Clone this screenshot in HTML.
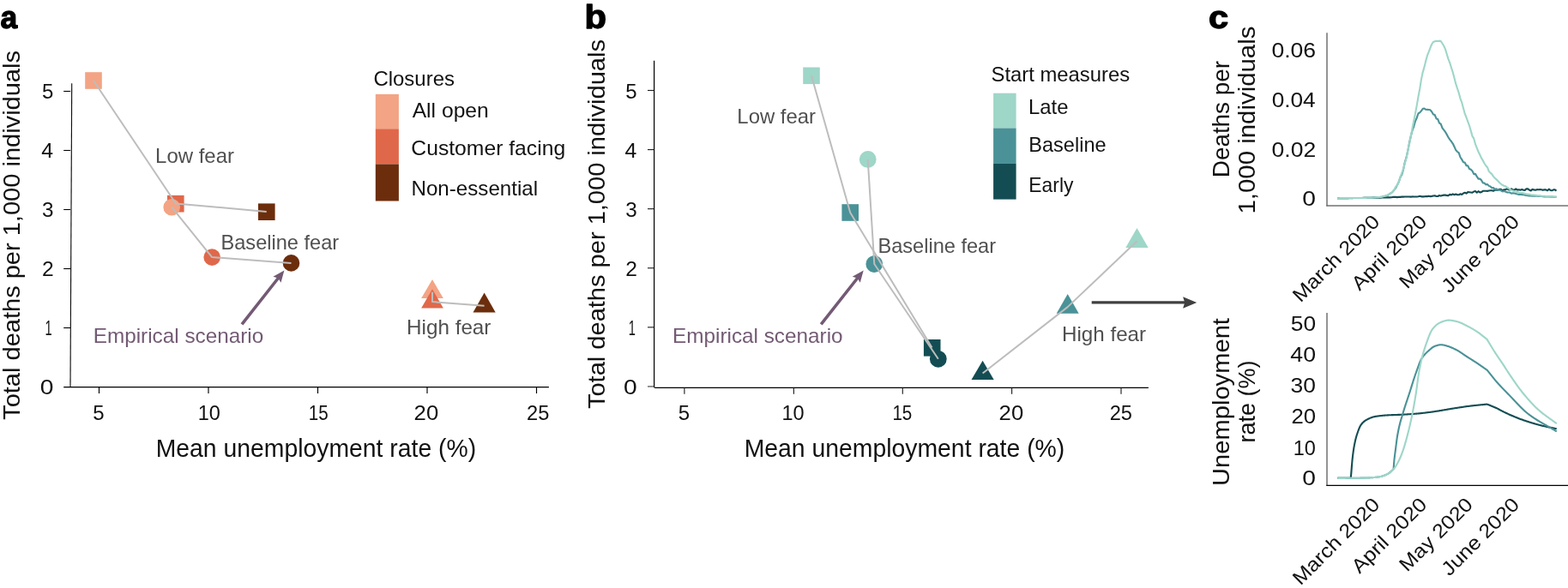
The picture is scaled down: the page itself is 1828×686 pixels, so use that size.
<!DOCTYPE html>
<html><head><meta charset="utf-8"><title>Figure</title>
<style>html,body{margin:0;padding:0;background:#fff;}svg{display:block;}text{font-family:"Liberation Sans", Arial, Helvetica, sans-serif;}</style>
</head><body>
<svg width="1828" height="686" viewBox="0 0 1828 686">
<rect width="1828" height="686" fill="#fff"/>
<text x="0.59" y="32.90" font-size="37" fill="#000" font-weight="bold" stroke="#000" stroke-width="1.3" stroke-linejoin="round" textLength="19.65" lengthAdjust="spacingAndGlyphs">a</text>
<line x1="83.70" y1="97.30" x2="82.00" y2="451.50" stroke="#111" stroke-width="1.15"/>
<line x1="74.20" y1="451.50" x2="639.90" y2="451.50" stroke="#000" stroke-width="1.25"/>
<text x="46.87" y="460.40" font-size="24" fill="#111" textLength="15.69" lengthAdjust="spacingAndGlyphs">0</text>
<line x1="74.20" y1="382.50" x2="82.20" y2="382.50" stroke="#000" stroke-width="1.1"/>
<text x="52.60" y="391.40" font-size="24" fill="#111" textLength="8.15" lengthAdjust="spacingAndGlyphs">1</text>
<line x1="74.20" y1="313.50" x2="82.20" y2="313.50" stroke="#000" stroke-width="1.1"/>
<text x="48.97" y="322.40" font-size="24" fill="#111" textLength="13.69" lengthAdjust="spacingAndGlyphs">2</text>
<line x1="74.20" y1="244.50" x2="82.20" y2="244.50" stroke="#000" stroke-width="1.1"/>
<text x="49.03" y="253.40" font-size="24" fill="#111" textLength="13.49" lengthAdjust="spacingAndGlyphs">3</text>
<line x1="74.20" y1="175.50" x2="82.20" y2="175.50" stroke="#000" stroke-width="1.1"/>
<text x="48.38" y="184.40" font-size="24" fill="#111" textLength="13.79" lengthAdjust="spacingAndGlyphs">4</text>
<line x1="74.20" y1="106.50" x2="82.20" y2="106.50" stroke="#000" stroke-width="1.1"/>
<text x="49.04" y="115.40" font-size="24" fill="#111" textLength="13.35" lengthAdjust="spacingAndGlyphs">5</text>
<line x1="115.50" y1="451.50" x2="115.50" y2="459.00" stroke="#000" stroke-width="1.15"/>
<text x="108.14" y="489.90" font-size="24" fill="#111" textLength="13.35" lengthAdjust="spacingAndGlyphs">5</text>
<line x1="243.00" y1="451.50" x2="243.00" y2="459.00" stroke="#000" stroke-width="1.15"/>
<text x="230.64" y="489.90" font-size="24" fill="#111" textLength="26.16" lengthAdjust="spacingAndGlyphs">10</text>
<line x1="370.50" y1="451.50" x2="370.50" y2="459.00" stroke="#000" stroke-width="1.15"/>
<text x="359.80" y="489.90" font-size="24" fill="#111" textLength="22.92" lengthAdjust="spacingAndGlyphs">15</text>
<line x1="498.00" y1="451.50" x2="498.00" y2="459.00" stroke="#000" stroke-width="1.15"/>
<text x="482.62" y="489.90" font-size="24" fill="#111" textLength="28.57" lengthAdjust="spacingAndGlyphs">20</text>
<line x1="625.50" y1="451.50" x2="625.50" y2="459.00" stroke="#000" stroke-width="1.15"/>
<text x="614.07" y="489.90" font-size="24" fill="#111" textLength="26.28" lengthAdjust="spacingAndGlyphs">25</text>
<text x="181.63" y="532.90" font-size="29" fill="#111" textLength="373.55" lengthAdjust="spacingAndGlyphs">Mean unemployment rate (%)</text>
<text transform="translate(23.30,489.88) rotate(-90)" x="0" y="0" font-size="28" fill="#111" textLength="430.86" lengthAdjust="spacingAndGlyphs">Total deaths per 1,000 individuals</text>
<rect x="99.20" y="84.20" width="19.60" height="19.60" fill="#F3A484"/>
<rect x="195.00" y="227.90" width="19.60" height="19.60" fill="#E0684A"/>
<rect x="301.00" y="237.40" width="19.60" height="19.60" fill="#6C2D0C"/>
<circle cx="200.20" cy="241.70" r="9.80" fill="#F3A484"/>
<circle cx="247.20" cy="300.10" r="9.80" fill="#E0684A"/>
<circle cx="339.50" cy="306.90" r="9.80" fill="#6C2D0C"/>
<polygon points="504.00,326.00 491.15,348.10 516.85,348.10" fill="#F3A484"/>
<polygon points="504.00,337.20 491.15,359.60 516.85,359.60" fill="#E0684A"/>
<polygon points="564.60,341.60 551.50,364.50 577.70,364.50" fill="#6C2D0C"/>
<polyline points="109.00,94.00 205.00,237.50 310.70,246.90" fill="none" stroke="#BDBDBD" stroke-width="2" stroke-linejoin="round"/>
<polyline points="200.20,241.70 247.20,300.10 339.50,307.00" fill="none" stroke="#BDBDBD" stroke-width="2" stroke-linejoin="round"/>
<polyline points="504.00,340.80 504.00,352.10 564.60,356.70" fill="none" stroke="#BDBDBD" stroke-width="2" stroke-linejoin="round"/>
<text x="435.40" y="100.00" font-size="23.8" fill="#111" textLength="94.56" lengthAdjust="spacingAndGlyphs">Closures</text>
<rect x="437.8" y="109.9" width="27.1" height="40.4" fill="#F3A484"/>
<rect x="437.8" y="150.3" width="27.1" height="41.2" fill="#E0684A"/>
<rect x="437.8" y="191.5" width="27.1" height="43.0" fill="#6C2D0C"/>
<text x="480.68" y="137.10" font-size="23.8" fill="#111" textLength="89.10" lengthAdjust="spacingAndGlyphs">All open</text>
<text x="479.37" y="181.20" font-size="23.8" fill="#111" textLength="179.76" lengthAdjust="spacingAndGlyphs">Customer facing</text>
<text x="479.47" y="227.90" font-size="23.8" fill="#111" textLength="147.71" lengthAdjust="spacingAndGlyphs">Non-essential</text>
<text x="181.08" y="189.80" font-size="23.8" fill="#4f4f4f" textLength="91.89" lengthAdjust="spacingAndGlyphs">Low fear</text>
<text x="257.51" y="290.80" font-size="23.8" fill="#4f4f4f" textLength="137.69" lengthAdjust="spacingAndGlyphs">Baseline fear</text>
<text x="474.06" y="389.70" font-size="23.8" fill="#4f4f4f" textLength="98.37" lengthAdjust="spacingAndGlyphs">High fear</text>
<text x="108.76" y="399.70" font-size="23.8" fill="#735A74" textLength="198.51" lengthAdjust="spacingAndGlyphs">Empirical scenario</text>
<line x1="282.00" y1="378.40" x2="324.91" y2="323.76" stroke="#735A74" stroke-width="3.6"/>
<polygon points="331.40,315.50 327.50,329.86 324.30,324.54 318.38,322.69" fill="#735A74"/>
<text x="681.43" y="32.90" font-size="38.5" fill="#000" font-weight="bold" stroke="#000" stroke-width="1.3" stroke-linejoin="round" textLength="25.52" lengthAdjust="spacingAndGlyphs">b</text>
<path d="M762.6,70.8 L762.6,450.9 Q762.6,452.4 764.1,452.4 L1338.9,452.45" fill="none" stroke="#000" stroke-width="1.2"/>
<line x1="755.00" y1="450.90" x2="762.00" y2="450.90" stroke="#777" stroke-width="1.6"/>
<text x="727.07" y="460.10" font-size="24" fill="#111" textLength="15.69" lengthAdjust="spacingAndGlyphs">0</text>
<line x1="755.00" y1="381.82" x2="762.00" y2="381.82" stroke="#222" stroke-width="1.15"/>
<text x="732.70" y="391.02" font-size="24" fill="#111" textLength="8.15" lengthAdjust="spacingAndGlyphs">1</text>
<line x1="755.00" y1="312.74" x2="762.00" y2="312.74" stroke="#222" stroke-width="1.15"/>
<text x="729.17" y="321.94" font-size="24" fill="#111" textLength="13.69" lengthAdjust="spacingAndGlyphs">2</text>
<line x1="755.00" y1="243.66" x2="762.00" y2="243.66" stroke="#222" stroke-width="1.15"/>
<text x="729.23" y="252.86" font-size="24" fill="#111" textLength="13.49" lengthAdjust="spacingAndGlyphs">3</text>
<line x1="755.00" y1="174.58" x2="762.00" y2="174.58" stroke="#222" stroke-width="1.15"/>
<text x="728.58" y="183.78" font-size="24" fill="#111" textLength="13.79" lengthAdjust="spacingAndGlyphs">4</text>
<line x1="755.00" y1="105.50" x2="762.00" y2="105.50" stroke="#222" stroke-width="1.15"/>
<text x="729.24" y="114.70" font-size="24" fill="#111" textLength="13.35" lengthAdjust="spacingAndGlyphs">5</text>
<line x1="797.90" y1="452.40" x2="797.90" y2="459.70" stroke="#222" stroke-width="1.15"/>
<text x="790.84" y="489.90" font-size="24" fill="#111" textLength="13.35" lengthAdjust="spacingAndGlyphs">5</text>
<line x1="925.40" y1="452.40" x2="925.40" y2="459.70" stroke="#222" stroke-width="1.15"/>
<text x="911.54" y="489.90" font-size="24" fill="#111" textLength="26.16" lengthAdjust="spacingAndGlyphs">10</text>
<line x1="1052.30" y1="452.40" x2="1052.30" y2="459.70" stroke="#222" stroke-width="1.15"/>
<text x="1040.40" y="489.90" font-size="24" fill="#111" textLength="22.92" lengthAdjust="spacingAndGlyphs">15</text>
<line x1="1179.60" y1="452.40" x2="1179.60" y2="459.70" stroke="#222" stroke-width="1.15"/>
<text x="1164.62" y="489.90" font-size="24" fill="#111" textLength="28.57" lengthAdjust="spacingAndGlyphs">20</text>
<line x1="1307.00" y1="452.40" x2="1307.00" y2="459.70" stroke="#222" stroke-width="1.15"/>
<text x="1293.67" y="489.90" font-size="24" fill="#111" textLength="26.28" lengthAdjust="spacingAndGlyphs">25</text>
<text x="867.63" y="532.70" font-size="29" fill="#111" textLength="373.65" lengthAdjust="spacingAndGlyphs">Mean unemployment rate (%)</text>
<text transform="translate(704.80,477.08) rotate(-90)" x="0" y="0" font-size="28" fill="#111" textLength="431.06" lengthAdjust="spacingAndGlyphs">Total deaths per 1,000 individuals</text>
<rect x="936.20" y="78.50" width="19.60" height="19.60" fill="#9ED6C8"/>
<rect x="981.40" y="238.20" width="19.60" height="19.60" fill="#4A9297"/>
<rect x="1076.90" y="396.00" width="19.60" height="19.60" fill="#134D53"/>
<circle cx="1011.70" cy="185.90" r="9.90" fill="#9ED6C8"/>
<circle cx="1019.30" cy="308.00" r="9.90" fill="#4A9297"/>
<circle cx="1093.80" cy="418.80" r="9.90" fill="#134D53"/>
<polygon points="1325.50,266.10 1312.30,288.90 1338.70,288.90" fill="#9ED6C8"/>
<polygon points="1244.70,342.90 1231.70,365.70 1257.70,365.70" fill="#4A9297"/>
<polygon points="1145.60,420.70 1132.50,442.90 1158.70,442.90" fill="#134D53"/>
<polyline points="946.00,88.30 991.20,248.00 1086.50,405.60" fill="none" stroke="#BDBDBD" stroke-width="2" stroke-linejoin="round"/>
<polyline points="1011.70,185.90 1019.30,308.00 1093.80,418.80" fill="none" stroke="#BDBDBD" stroke-width="2" stroke-linejoin="round"/>
<polyline points="1325.50,281.30 1244.70,358.10 1145.60,435.50" fill="none" stroke="#BDBDBD" stroke-width="2" stroke-linejoin="round"/>
<text x="1155.53" y="95.30" font-size="23.8" fill="#111" textLength="161.62" lengthAdjust="spacingAndGlyphs">Start measures</text>
<rect x="1158.1" y="108.7" width="26.5" height="40.8" fill="#9ED6C8"/>
<rect x="1158.1" y="149.5" width="26.5" height="41.4" fill="#4A9297"/>
<rect x="1158.1" y="190.9" width="26.5" height="41.7" fill="#134D53"/>
<text x="1199.09" y="133.10" font-size="23.8" fill="#111" textLength="46.41" lengthAdjust="spacingAndGlyphs">Late</text>
<text x="1199.32" y="177.00" font-size="23.8" fill="#111" textLength="90.27" lengthAdjust="spacingAndGlyphs">Baseline</text>
<text x="1199.37" y="224.10" font-size="23.8" fill="#111" textLength="52.00" lengthAdjust="spacingAndGlyphs">Early</text>
<text x="859.39" y="143.60" font-size="23.8" fill="#4f4f4f" textLength="91.68" lengthAdjust="spacingAndGlyphs">Low fear</text>
<text x="1023.41" y="294.60" font-size="23.8" fill="#4f4f4f" textLength="137.69" lengthAdjust="spacingAndGlyphs">Baseline fear</text>
<text x="1237.96" y="397.80" font-size="23.8" fill="#4f4f4f" textLength="98.16" lengthAdjust="spacingAndGlyphs">High fear</text>
<text x="784.06" y="399.70" font-size="23.8" fill="#735A74" textLength="198.51" lengthAdjust="spacingAndGlyphs">Empirical scenario</text>
<line x1="957.20" y1="378.40" x2="1000.21" y2="323.75" stroke="#735A74" stroke-width="3.6"/>
<polygon points="1006.70,315.50 1002.79,329.85 999.59,324.54 993.67,322.68" fill="#735A74"/>
<line x1="1272.70" y1="352.90" x2="1382.20" y2="352.90" stroke="#404040" stroke-width="3.4"/>
<polygon points="1395.20,352.90 1379.10,359.65 1381.20,352.90 1379.10,346.15" fill="#404040"/>
<text x="1409.09" y="32.90" font-size="37" fill="#000" font-weight="bold" stroke="#000" stroke-width="1.3" stroke-linejoin="round" textLength="23.05" lengthAdjust="spacingAndGlyphs">c</text>
<line x1="1547.00" y1="38.30" x2="1547.00" y2="240.60" stroke="#707070" stroke-width="1.5"/>
<line x1="1546.30" y1="239.90" x2="1828.00" y2="239.90" stroke="#707070" stroke-width="1.5"/>
<text x="1482.44" y="67.40" font-size="24" fill="#111" textLength="51.69" lengthAdjust="spacingAndGlyphs">0.06</text>
<text x="1482.65" y="125.30" font-size="24" fill="#111" textLength="51.07" lengthAdjust="spacingAndGlyphs">0.04</text>
<text x="1482.64" y="182.90" font-size="24" fill="#111" textLength="51.62" lengthAdjust="spacingAndGlyphs">0.02</text>
<text x="1518.37" y="240.30" font-size="24" fill="#111" textLength="15.69" lengthAdjust="spacingAndGlyphs">0</text>
<text transform="translate(1463.40,249.50) rotate(-90)" x="0" y="0" font-size="28" fill="#111" textLength="218.93" lengthAdjust="spacingAndGlyphs">1,000 individuals</text>
<text transform="translate(1432.60,207.23) rotate(-90)" x="0" y="0" font-size="28" fill="#111" textLength="136.29" lengthAdjust="spacingAndGlyphs">Deaths per</text>
<text transform="translate(1609.80,260.10) rotate(-45)" x="0" y="0" font-size="23" fill="#111" text-anchor="end" textLength="132.39" lengthAdjust="spacingAndGlyphs">March 2020</text>
<text transform="translate(1664.80,260.10) rotate(-45)" x="0" y="0" font-size="23" fill="#111" text-anchor="end" textLength="112.89" lengthAdjust="spacingAndGlyphs">April 2020</text>
<text transform="translate(1718.40,260.10) rotate(-45)" x="0" y="0" font-size="23" fill="#111" text-anchor="end" textLength="110.10" lengthAdjust="spacingAndGlyphs">May 2020</text>
<text transform="translate(1772.60,260.10) rotate(-45)" x="0" y="0" font-size="23" fill="#111" text-anchor="end" textLength="117.10" lengthAdjust="spacingAndGlyphs">June 2020</text>
<line x1="1547.00" y1="365.00" x2="1547.00" y2="567.00" stroke="#707070" stroke-width="1.5"/>
<line x1="1546.30" y1="566.40" x2="1828.00" y2="566.40" stroke="#000" stroke-width="1.2"/>
<text x="1504.75" y="386.15" font-size="24" fill="#111" textLength="29.27" lengthAdjust="spacingAndGlyphs">50</text>
<text x="1504.33" y="422.25" font-size="24" fill="#111" textLength="29.70" lengthAdjust="spacingAndGlyphs">40</text>
<text x="1504.64" y="458.10" font-size="24" fill="#111" textLength="29.37" lengthAdjust="spacingAndGlyphs">30</text>
<text x="1505.42" y="494.20" font-size="24" fill="#111" textLength="28.57" lengthAdjust="spacingAndGlyphs">20</text>
<text x="1507.74" y="530.55" font-size="24" fill="#111" textLength="26.16" lengthAdjust="spacingAndGlyphs">10</text>
<text x="1518.37" y="566.40" font-size="24" fill="#111" textLength="15.69" lengthAdjust="spacingAndGlyphs">0</text>
<text transform="translate(1432.60,566.99) rotate(-90)" x="0" y="0" font-size="28" fill="#111" textLength="195.94" lengthAdjust="spacingAndGlyphs">Unemployment</text>
<text transform="translate(1463.20,516.55) rotate(-90)" x="0" y="0" font-size="28" fill="#111" textLength="96.01" lengthAdjust="spacingAndGlyphs">rate (%)</text>
<text transform="translate(1609.80,590.10) rotate(-45)" x="0" y="0" font-size="23" fill="#111" text-anchor="end" textLength="132.39" lengthAdjust="spacingAndGlyphs">March 2020</text>
<text transform="translate(1664.80,590.10) rotate(-45)" x="0" y="0" font-size="23" fill="#111" text-anchor="end" textLength="112.89" lengthAdjust="spacingAndGlyphs">April 2020</text>
<text transform="translate(1718.40,590.10) rotate(-45)" x="0" y="0" font-size="23" fill="#111" text-anchor="end" textLength="110.10" lengthAdjust="spacingAndGlyphs">May 2020</text>
<text transform="translate(1772.60,590.10) rotate(-45)" x="0" y="0" font-size="23" fill="#111" text-anchor="end" textLength="117.10" lengthAdjust="spacingAndGlyphs">June 2020</text>
<path d="M1559.00,231.20 L1560.75,231.18 L1562.50,231.17 L1564.25,231.15 L1566.00,231.14 L1567.75,231.11 L1569.50,231.09 L1571.25,231.11 L1573.00,231.07 L1574.75,231.05 L1576.50,231.08 L1578.25,231.03 L1580.00,231.04 L1581.75,231.00 L1583.50,230.99 L1585.25,230.93 L1587.00,230.95 L1588.75,230.95 L1590.50,230.90 L1592.25,230.90 L1594.00,230.86 L1595.75,230.74 L1597.50,230.81 L1599.25,230.75 L1601.00,230.66 L1602.75,230.56 L1604.50,230.69 L1606.25,230.56 L1608.00,230.58 L1609.75,230.58 L1611.50,230.49 L1613.25,230.51 L1615.00,230.30 L1616.75,230.39 L1618.50,230.22 L1620.25,230.35 L1622.00,230.29 L1623.75,229.92 L1625.50,229.88 L1627.25,229.84 L1629.00,230.13 L1630.75,229.81 L1632.50,229.85 L1634.25,229.61 L1636.00,229.66 L1637.75,229.52 L1639.50,229.43 L1641.25,229.52 L1643.00,229.46 L1644.75,229.62 L1646.50,229.42 L1648.25,229.55 L1650.00,229.46 L1651.75,229.53 L1653.50,229.25 L1655.25,228.83 L1657.00,229.35 L1658.75,229.40 L1660.50,229.33 L1662.25,229.03 L1664.00,229.12 L1665.75,228.67 L1667.50,229.15 L1669.25,228.89 L1671.00,228.58 L1672.75,228.30 L1674.50,228.95 L1676.25,229.00 L1678.00,227.99 L1679.75,228.62 L1681.50,228.07 L1683.25,227.63 L1685.00,227.64 L1686.75,228.09 L1688.50,228.09 L1690.25,226.80 L1692.00,227.44 L1693.75,226.43 L1695.50,227.29 L1697.25,226.51 L1699.00,227.26 L1700.75,227.29 L1702.50,226.28 L1704.25,227.01 L1706.00,225.49 L1707.75,224.78 L1709.50,225.63 L1711.25,224.16 L1713.00,224.29 L1714.75,224.52 L1716.50,224.73 L1718.25,223.50 L1720.00,223.02 L1721.75,224.62 L1723.50,223.20 L1725.25,224.42 L1727.00,224.10 L1728.75,222.79 L1730.50,222.80 L1732.25,222.75 L1734.00,222.84 L1735.75,222.55 L1737.50,222.30 L1739.25,222.26 L1741.00,222.80 L1742.75,221.70 L1744.50,221.41 L1746.25,221.94 L1748.00,220.79 L1749.75,220.88 L1751.50,222.35 L1753.25,221.35 L1755.00,221.41 L1756.75,220.23 L1758.50,221.11 L1760.25,221.48 L1762.00,220.24 L1763.75,221.55 L1765.50,221.59 L1767.25,220.33 L1769.00,221.58 L1770.75,221.23 L1772.50,221.70 L1774.25,220.99 L1776.00,221.78 L1777.75,221.87 L1779.50,220.31 L1781.25,220.42 L1783.00,221.79 L1784.75,222.45 L1786.50,220.91 L1788.25,221.38 L1790.00,221.70 L1791.75,221.13 L1793.50,221.25 L1795.25,221.16 L1797.00,221.31 L1798.75,221.84 L1800.50,221.21 L1802.25,221.41 L1804.00,222.31 L1805.75,220.70 L1807.50,221.93 L1809.25,222.32 L1811.00,221.41 L1812.75,221.25 L1814.50,222.56" fill="none" stroke="#134D53" stroke-width="2.1" stroke-linejoin="round"/>
<path d="M1559.00,231.20 L1560.75,231.18 L1562.50,231.17 L1564.25,231.15 L1566.00,231.14 L1567.75,231.13 L1569.50,231.12 L1571.25,231.10 L1573.00,231.09 L1574.75,231.08 L1576.50,231.06 L1578.25,231.04 L1580.00,231.03 L1581.75,231.01 L1583.50,231.00 L1585.25,230.99 L1587.00,230.96 L1588.75,230.92 L1590.50,230.89 L1592.25,230.84 L1594.00,230.78 L1595.75,230.72 L1597.50,230.68 L1599.25,230.60 L1601.00,230.51 L1602.75,230.46 L1604.50,230.31 L1606.25,230.19 L1608.00,229.99 L1609.75,229.76 L1611.50,229.51 L1613.25,229.05 L1615.00,228.66 L1616.75,228.29 L1618.50,227.44 L1620.25,226.03 L1622.00,225.18 L1623.75,223.48 L1625.50,221.33 L1627.25,219.00 L1629.00,215.66 L1630.75,212.29 L1632.50,206.81 L1634.25,203.66 L1636.00,198.16 L1637.75,189.52 L1639.50,183.91 L1641.25,176.10 L1643.00,166.82 L1644.75,158.92 L1646.50,152.17 L1648.25,147.54 L1650.00,141.27 L1651.75,137.45 L1653.50,132.23 L1655.25,131.31 L1657.00,129.41 L1658.75,126.79 L1660.50,126.59 L1662.25,127.82 L1664.00,127.85 L1665.75,127.98 L1667.50,128.34 L1669.25,130.47 L1671.00,133.48 L1672.75,134.10 L1674.50,138.45 L1676.25,139.09 L1678.00,143.55 L1679.75,144.71 L1681.50,149.44 L1683.25,151.62 L1685.00,153.94 L1686.75,156.90 L1688.50,160.21 L1690.25,162.94 L1692.00,165.03 L1693.75,167.55 L1695.50,171.17 L1697.25,175.11 L1699.00,177.02 L1700.75,178.38 L1702.50,183.47 L1704.25,186.12 L1706.00,189.29 L1707.75,189.60 L1709.50,193.28 L1711.25,193.35 L1713.00,196.92 L1714.75,197.71 L1716.50,199.43 L1718.25,203.13 L1720.00,202.87 L1721.75,205.91 L1723.50,208.65 L1725.25,208.66 L1727.00,210.13 L1728.75,213.35 L1730.50,213.46 L1732.25,215.40 L1734.00,215.08 L1735.75,216.88 L1737.50,217.53 L1739.25,219.27 L1741.00,219.03 L1742.75,221.05 L1744.50,220.29 L1746.25,221.84 L1748.00,221.43 L1749.75,222.23 L1751.50,223.34 L1753.25,223.03 L1755.00,223.49 L1756.75,224.40 L1758.50,224.48 L1760.25,224.54 L1762.00,225.69 L1763.75,225.33 L1765.50,225.56 L1767.25,226.08 L1769.00,226.53 L1770.75,226.86 L1772.50,226.71 L1774.25,227.09 L1776.00,227.16 L1777.75,227.60 L1779.50,227.96 L1781.25,228.14 L1783.00,228.38 L1784.75,228.49 L1786.50,228.68 L1788.25,228.75 L1790.00,228.79 L1791.75,228.82 L1793.50,229.05 L1795.25,229.04 L1797.00,229.07 L1798.75,229.24 L1800.50,229.43 L1802.25,229.31 L1804.00,229.49 L1805.75,229.51 L1807.50,229.60 L1809.25,229.59 L1811.00,229.83 L1812.75,229.75 L1814.50,229.89" fill="none" stroke="#4A9297" stroke-width="2.1" stroke-linejoin="round"/>
<path d="M1559.00,231.20 L1560.75,231.18 L1562.50,231.17 L1564.25,231.15 L1566.00,231.14 L1567.75,231.13 L1569.50,231.12 L1571.25,231.11 L1573.00,231.09 L1574.75,231.07 L1576.50,231.07 L1578.25,231.05 L1580.00,231.04 L1581.75,231.00 L1583.50,230.99 L1585.25,230.98 L1587.00,230.94 L1588.75,230.93 L1590.50,230.91 L1592.25,230.84 L1594.00,230.79 L1595.75,230.76 L1597.50,230.71 L1599.25,230.60 L1601.00,230.50 L1602.75,230.41 L1604.50,230.26 L1606.25,230.14 L1608.00,230.03 L1609.75,229.85 L1611.50,229.50 L1613.25,229.09 L1615.00,228.58 L1616.75,228.06 L1618.50,227.26 L1620.25,225.98 L1622.00,225.07 L1623.75,223.20 L1625.50,221.17 L1627.25,217.79 L1629.00,215.98 L1630.75,212.30 L1632.50,206.35 L1634.25,201.93 L1636.00,197.37 L1637.75,190.96 L1639.50,184.21 L1641.25,175.44 L1643.00,168.35 L1644.75,159.52 L1646.50,149.75 L1648.25,141.01 L1650.00,132.28 L1651.75,122.88 L1653.50,112.77 L1655.25,103.48 L1657.00,92.38 L1658.75,84.08 L1660.50,78.17 L1662.25,70.90 L1664.00,64.68 L1665.75,60.43 L1667.50,55.64 L1669.25,51.48 L1671.00,48.91 L1672.75,48.16 L1674.50,47.69 L1676.25,48.05 L1678.00,47.65 L1679.75,48.03 L1681.50,50.77 L1683.25,53.52 L1685.00,57.39 L1686.75,63.32 L1688.50,68.84 L1690.25,73.39 L1692.00,78.98 L1693.75,84.44 L1695.50,91.02 L1697.25,97.92 L1699.00,103.23 L1700.75,108.49 L1702.50,115.08 L1704.25,119.68 L1706.00,126.24 L1707.75,132.71 L1709.50,137.01 L1711.25,141.81 L1713.00,146.58 L1714.75,152.60 L1716.50,158.87 L1718.25,161.67 L1720.00,168.14 L1721.75,172.67 L1723.50,176.98 L1725.25,180.52 L1727.00,184.37 L1728.75,187.18 L1730.50,190.52 L1732.25,193.21 L1734.00,195.21 L1735.75,199.79 L1737.50,201.62 L1739.25,203.08 L1741.00,205.90 L1742.75,207.83 L1744.50,209.38 L1746.25,211.06 L1748.00,213.02 L1749.75,214.55 L1751.50,215.79 L1753.25,216.72 L1755.00,217.18 L1756.75,218.55 L1758.50,219.46 L1760.25,220.83 L1762.00,221.91 L1763.75,222.54 L1765.50,223.18 L1767.25,223.78 L1769.00,223.83 L1770.75,224.75 L1772.50,225.04 L1774.25,225.04 L1776.00,225.40 L1777.75,225.78 L1779.50,226.55 L1781.25,226.60 L1783.00,226.83 L1784.75,227.34 L1786.50,227.46 L1788.25,227.58 L1790.00,227.82 L1791.75,228.14 L1793.50,228.18 L1795.25,228.38 L1797.00,228.66 L1798.75,228.72 L1800.50,228.82 L1802.25,228.98 L1804.00,229.00 L1805.75,229.20 L1807.50,229.33 L1809.25,229.41 L1811.00,229.52 L1812.75,229.79 L1814.50,229.85" fill="none" stroke="#9ED6C8" stroke-width="2.1" stroke-linejoin="round"/>
<path d="M1559.30,557.80 L1559.92,557.80 L1560.53,557.79 L1561.15,557.79 L1561.76,557.78 L1562.38,557.78 L1563.00,557.78 L1563.61,557.77 L1564.23,557.77 L1564.84,557.76 L1565.46,557.76 L1566.08,557.76 L1566.69,557.75 L1567.31,557.75 L1567.92,557.74 L1568.54,557.74 L1569.16,557.74 L1569.77,557.73 L1570.39,557.73 L1571.00,557.72 L1571.62,557.72 L1572.24,557.72 L1572.85,557.71 L1573.47,557.71 L1574.08,557.70 L1574.70,557.70 L1574.95,555.47 L1575.20,553.10 L1575.85,544.91 L1576.50,537.00 L1577.10,531.65 L1577.70,526.95 L1578.30,522.87 L1578.90,519.40 L1579.54,516.21 L1580.18,513.35 L1580.82,510.81 L1581.46,508.53 L1582.10,506.50 L1582.70,504.72 L1583.30,503.01 L1583.90,501.39 L1584.50,499.87 L1585.10,498.49 L1585.70,497.25 L1586.30,496.18 L1586.90,495.30 L1587.54,494.50 L1588.18,493.76 L1588.82,493.09 L1589.46,492.47 L1590.10,491.90 L1590.74,491.38 L1591.38,490.90 L1592.02,490.47 L1592.66,490.07 L1593.30,489.70 L1593.90,489.38 L1594.50,489.06 L1595.10,488.75 L1595.70,488.46 L1596.30,488.18 L1596.90,487.91 L1597.50,487.65 L1598.10,487.40 L1598.70,487.17 L1599.30,486.96 L1599.90,486.76 L1600.50,486.57 L1601.10,486.40 L1601.70,486.25 L1602.30,486.12 L1602.90,486.00 L1603.50,485.89 L1604.11,485.79 L1604.71,485.70 L1605.32,485.60 L1605.92,485.51 L1606.53,485.43 L1607.13,485.34 L1607.73,485.27 L1608.34,485.19 L1608.94,485.12 L1609.55,485.05 L1610.15,484.98 L1610.75,484.92 L1611.36,484.86 L1611.96,484.81 L1612.57,484.75 L1613.17,484.70 L1613.78,484.65 L1614.38,484.60 L1614.98,484.56 L1615.59,484.52 L1616.19,484.48 L1616.80,484.44 L1617.40,484.40 L1618.01,484.36 L1618.61,484.33 L1619.22,484.30 L1619.83,484.27 L1620.43,484.24 L1621.04,484.22 L1621.65,484.19 L1622.26,484.17 L1622.86,484.14 L1623.47,484.12 L1624.08,484.10 L1624.68,484.08 L1625.29,484.06 L1625.90,484.04 L1626.50,484.02 L1627.11,484.00 L1627.72,483.98 L1628.32,483.96 L1628.93,483.94 L1629.54,483.92 L1630.14,483.90 L1630.75,483.88 L1631.36,483.86 L1631.97,483.83 L1632.57,483.81 L1633.18,483.78 L1633.79,483.76 L1634.39,483.73 L1635.00,483.70 L1635.61,483.67 L1636.22,483.64 L1636.83,483.61 L1637.44,483.57 L1638.05,483.54 L1638.66,483.50 L1639.27,483.47 L1639.88,483.43 L1640.49,483.40 L1641.10,483.36 L1641.71,483.32 L1642.32,483.28 L1642.93,483.24 L1643.54,483.20 L1644.16,483.16 L1644.77,483.12 L1645.38,483.08 L1645.99,483.03 L1646.60,482.99 L1647.21,482.94 L1647.82,482.90 L1648.43,482.85 L1649.04,482.80 L1649.65,482.75 L1650.26,482.70 L1650.87,482.65 L1651.48,482.60 L1652.09,482.55 L1652.70,482.50 L1653.30,482.45 L1653.91,482.39 L1654.51,482.34 L1655.11,482.28 L1655.71,482.22 L1656.32,482.16 L1656.92,482.09 L1657.52,482.03 L1658.13,481.96 L1658.73,481.89 L1659.33,481.83 L1659.94,481.76 L1660.54,481.68 L1661.14,481.61 L1661.74,481.54 L1662.35,481.46 L1662.95,481.39 L1663.55,481.31 L1664.16,481.23 L1664.76,481.16 L1665.36,481.08 L1665.96,481.00 L1666.57,480.92 L1667.17,480.84 L1667.77,480.75 L1668.38,480.67 L1668.98,480.59 L1669.58,480.51 L1670.19,480.42 L1670.79,480.34 L1671.39,480.25 L1671.99,480.17 L1672.60,480.08 L1673.20,480.00 L1673.80,479.91 L1674.41,479.83 L1675.01,479.74 L1675.61,479.64 L1676.22,479.55 L1676.82,479.45 L1677.42,479.36 L1678.03,479.26 L1678.63,479.16 L1679.23,479.06 L1679.83,478.96 L1680.44,478.85 L1681.04,478.75 L1681.64,478.65 L1682.25,478.54 L1682.85,478.44 L1683.45,478.33 L1684.06,478.23 L1684.66,478.12 L1685.26,478.02 L1685.87,477.91 L1686.47,477.81 L1687.07,477.70 L1687.67,477.60 L1688.28,477.49 L1688.88,477.39 L1689.48,477.29 L1690.09,477.19 L1690.69,477.09 L1691.29,476.99 L1691.90,476.90 L1692.50,476.80 L1693.10,476.71 L1693.70,476.61 L1694.30,476.52 L1694.90,476.42 L1695.50,476.33 L1696.10,476.23 L1696.70,476.14 L1697.30,476.05 L1697.90,475.95 L1698.50,475.86 L1699.10,475.76 L1699.70,475.67 L1700.30,475.58 L1700.90,475.48 L1701.50,475.39 L1702.10,475.30 L1702.70,475.21 L1703.30,475.12 L1703.90,475.02 L1704.50,474.93 L1705.10,474.85 L1705.70,474.76 L1706.30,474.67 L1706.90,474.58 L1707.50,474.50 L1708.10,474.41 L1708.70,474.33 L1709.30,474.25 L1709.90,474.16 L1710.50,474.08 L1711.10,474.00 L1711.70,473.93 L1712.30,473.85 L1712.90,473.77 L1713.50,473.70 L1714.11,473.63 L1714.72,473.55 L1715.33,473.48 L1715.94,473.41 L1716.55,473.34 L1717.15,473.27 L1717.76,473.21 L1718.37,473.14 L1718.98,473.08 L1719.59,473.01 L1720.20,472.95 L1720.81,472.88 L1721.42,472.82 L1722.03,472.76 L1722.64,472.70 L1723.25,472.64 L1723.85,472.58 L1724.46,472.51 L1725.07,472.45 L1725.68,472.39 L1726.29,472.33 L1726.90,472.27 L1727.51,472.21 L1728.12,472.15 L1728.73,472.09 L1729.34,472.03 L1729.95,471.97 L1730.55,471.91 L1731.16,471.85 L1731.77,471.79 L1732.38,471.73 L1732.99,471.66 L1733.60,471.60 L1734.20,471.85 L1734.80,472.09 L1735.40,472.33 L1736.00,472.57 L1736.60,472.80 L1737.20,473.04 L1737.80,473.28 L1738.40,473.51 L1739.00,473.75 L1739.60,473.99 L1740.20,474.23 L1740.80,474.48 L1741.40,474.72 L1742.00,474.97 L1742.60,475.23 L1743.20,475.49 L1743.80,475.75 L1744.40,476.02 L1745.00,476.30 L1745.64,476.61 L1746.27,476.93 L1746.91,477.26 L1747.55,477.61 L1748.18,477.96 L1748.82,478.31 L1749.45,478.66 L1750.09,479.01 L1750.73,479.35 L1751.36,479.68 L1752.00,480.00 L1752.60,480.29 L1753.21,480.58 L1753.81,480.87 L1754.41,481.16 L1755.02,481.45 L1755.62,481.74 L1756.22,482.02 L1756.82,482.31 L1757.43,482.59 L1758.03,482.87 L1758.63,483.15 L1759.24,483.43 L1759.84,483.70 L1760.44,483.98 L1761.05,484.25 L1761.65,484.52 L1762.25,484.78 L1762.85,485.05 L1763.46,485.31 L1764.06,485.57 L1764.66,485.83 L1765.27,486.08 L1765.87,486.34 L1766.47,486.59 L1767.08,486.83 L1767.68,487.08 L1768.28,487.32 L1768.88,487.56 L1769.49,487.79 L1770.09,488.02 L1770.69,488.25 L1771.30,488.48 L1771.90,488.70 L1772.51,488.92 L1773.12,489.14 L1773.74,489.36 L1774.35,489.58 L1774.96,489.80 L1775.58,490.01 L1776.19,490.23 L1776.80,490.44 L1777.41,490.65 L1778.03,490.85 L1778.64,491.06 L1779.25,491.27 L1779.86,491.47 L1780.48,491.67 L1781.09,491.87 L1781.70,492.07 L1782.31,492.26 L1782.93,492.46 L1783.54,492.65 L1784.15,492.84 L1784.76,493.03 L1785.38,493.22 L1785.99,493.40 L1786.60,493.59 L1787.21,493.77 L1787.83,493.95 L1788.44,494.13 L1789.05,494.31 L1789.66,494.48 L1790.28,494.66 L1790.89,494.83 L1791.50,495.00 L1792.11,495.17 L1792.73,495.34 L1793.34,495.50 L1793.95,495.66 L1794.56,495.83 L1795.18,495.99 L1795.79,496.14 L1796.40,496.30 L1797.01,496.45 L1797.63,496.61 L1798.24,496.75 L1798.85,496.90 L1799.47,497.04 L1800.08,497.19 L1800.69,497.32 L1801.31,497.46 L1801.92,497.60 L1802.53,497.73 L1803.15,497.86 L1803.76,498.00 L1804.37,498.13 L1804.99,498.25 L1805.60,498.38 L1806.21,498.51 L1806.83,498.64 L1807.44,498.76 L1808.05,498.89 L1808.67,499.02 L1809.28,499.14 L1809.89,499.27 L1810.51,499.39 L1811.12,499.52 L1811.73,499.65 L1812.35,499.78 L1812.96,499.91 L1813.57,500.04 L1814.19,500.17 L1814.80,500.30" fill="none" stroke="#134D53" stroke-width="2.1" stroke-linejoin="round"/>
<path d="M1559.30,557.90 L1559.90,557.89 L1560.51,557.89 L1561.11,557.88 L1561.72,557.88 L1562.32,557.87 L1562.92,557.87 L1563.53,557.86 L1564.13,557.86 L1564.74,557.85 L1565.34,557.85 L1565.94,557.84 L1566.55,557.84 L1567.15,557.84 L1567.75,557.83 L1568.36,557.83 L1568.96,557.82 L1569.57,557.82 L1570.17,557.82 L1570.77,557.81 L1571.38,557.81 L1571.98,557.80 L1572.59,557.80 L1573.19,557.79 L1573.79,557.79 L1574.40,557.78 L1575.00,557.78 L1575.61,557.78 L1576.21,557.77 L1576.81,557.77 L1577.42,557.76 L1578.02,557.76 L1578.63,557.75 L1579.23,557.74 L1579.83,557.74 L1580.44,557.73 L1581.04,557.73 L1581.65,557.72 L1582.25,557.71 L1582.85,557.71 L1583.46,557.70 L1584.06,557.69 L1584.66,557.68 L1585.27,557.68 L1585.87,557.67 L1586.48,557.66 L1587.08,557.65 L1587.68,557.64 L1588.29,557.63 L1588.89,557.62 L1589.50,557.61 L1590.10,557.60 L1590.72,557.59 L1591.34,557.57 L1591.96,557.56 L1592.58,557.54 L1593.20,557.52 L1593.82,557.50 L1594.43,557.47 L1595.05,557.44 L1595.67,557.42 L1596.29,557.39 L1596.91,557.35 L1597.53,557.32 L1598.15,557.28 L1598.77,557.24 L1599.39,557.20 L1600.01,557.16 L1600.63,557.11 L1601.25,557.06 L1601.87,557.01 L1602.48,556.96 L1603.10,556.91 L1603.72,556.85 L1604.34,556.79 L1604.96,556.73 L1605.58,556.67 L1606.20,556.60 L1606.82,556.52 L1607.44,556.43 L1608.07,556.32 L1608.69,556.19 L1609.31,556.05 L1609.93,555.90 L1610.56,555.73 L1611.18,555.54 L1611.80,555.35 L1612.42,555.14 L1613.04,554.92 L1613.67,554.69 L1614.29,554.44 L1614.91,554.19 L1615.53,553.93 L1616.16,553.66 L1616.78,553.38 L1617.40,553.10 L1618.05,552.76 L1618.71,552.35 L1619.36,551.89 L1620.02,551.38 L1620.67,550.83 L1621.33,550.26 L1621.98,549.67 L1622.64,549.08 L1623.29,548.50 L1623.95,547.94 L1624.60,547.40 L1625.00,541.92 L1625.40,537.00 L1626.20,530.14 L1627.00,524.20 L1627.63,519.02 L1628.27,513.89 L1628.90,509.50 L1629.52,505.97 L1630.13,502.75 L1630.75,499.79 L1631.37,497.06 L1631.98,494.51 L1632.60,492.10 L1633.37,489.40 L1634.13,486.97 L1634.90,484.50 L1635.75,481.53 L1636.60,478.60 L1637.21,476.62 L1637.82,474.70 L1638.43,472.82 L1639.04,470.97 L1639.65,469.14 L1640.26,467.32 L1640.87,465.51 L1641.48,463.69 L1642.09,461.86 L1642.70,460.00 L1643.31,458.11 L1643.92,456.20 L1644.52,454.27 L1645.13,452.32 L1645.74,450.36 L1646.35,448.41 L1646.95,446.47 L1647.56,444.55 L1648.17,442.66 L1648.78,440.80 L1649.38,438.98 L1649.99,437.21 L1650.60,435.50 L1651.24,433.72 L1651.87,431.92 L1652.51,430.10 L1653.15,428.31 L1653.78,426.55 L1654.42,424.85 L1655.05,423.23 L1655.69,421.72 L1656.33,420.33 L1656.96,419.08 L1657.60,418.00 L1658.21,417.09 L1658.82,416.23 L1659.42,415.42 L1660.03,414.66 L1660.64,413.95 L1661.25,413.27 L1661.85,412.62 L1662.46,412.01 L1663.07,411.42 L1663.68,410.84 L1664.28,410.29 L1664.89,409.74 L1665.50,409.20 L1666.14,408.63 L1666.77,408.06 L1667.41,407.49 L1668.05,406.94 L1668.68,406.40 L1669.32,405.89 L1669.95,405.42 L1670.59,404.98 L1671.23,404.60 L1671.86,404.27 L1672.50,404.00 L1673.12,403.77 L1673.75,403.55 L1674.38,403.33 L1675.00,403.13 L1675.62,402.93 L1676.25,402.76 L1676.88,402.60 L1677.50,402.46 L1678.12,402.35 L1678.75,402.27 L1679.38,402.22 L1680.00,402.20 L1680.60,402.22 L1681.20,402.27 L1681.80,402.34 L1682.40,402.44 L1683.00,402.57 L1683.60,402.70 L1684.20,402.86 L1684.80,403.02 L1685.40,403.19 L1686.00,403.36 L1686.60,403.53 L1687.20,403.70 L1687.82,403.88 L1688.44,404.07 L1689.05,404.27 L1689.67,404.49 L1690.29,404.71 L1690.91,404.95 L1691.52,405.20 L1692.14,405.46 L1692.76,405.73 L1693.38,406.01 L1693.99,406.29 L1694.61,406.58 L1695.23,406.88 L1695.85,407.18 L1696.46,407.48 L1697.08,407.79 L1697.70,408.10 L1698.32,408.42 L1698.93,408.75 L1699.55,409.10 L1700.16,409.46 L1700.78,409.84 L1701.39,410.22 L1702.01,410.62 L1702.62,411.02 L1703.24,411.43 L1703.85,411.84 L1704.46,412.26 L1705.08,412.68 L1705.69,413.10 L1706.31,413.53 L1706.92,413.95 L1707.54,414.37 L1708.15,414.78 L1708.77,415.20 L1709.38,415.60 L1710.00,416.00 L1710.61,416.39 L1711.22,416.78 L1711.83,417.17 L1712.44,417.55 L1713.05,417.94 L1713.66,418.32 L1714.27,418.71 L1714.88,419.09 L1715.49,419.48 L1716.10,419.86 L1716.71,420.25 L1717.32,420.64 L1717.93,421.02 L1718.54,421.41 L1719.15,421.81 L1719.76,422.20 L1720.37,422.60 L1720.98,422.99 L1721.59,423.40 L1722.20,423.80 L1722.83,424.22 L1723.47,424.65 L1724.10,425.08 L1724.73,425.51 L1725.37,425.95 L1726.00,426.39 L1726.63,426.83 L1727.27,427.27 L1727.90,427.71 L1728.53,428.15 L1729.17,428.60 L1729.80,429.04 L1730.43,429.49 L1731.07,429.93 L1731.70,430.38 L1732.33,430.82 L1732.97,431.26 L1733.60,431.70 L1734.20,432.44 L1734.80,433.18 L1735.40,433.93 L1736.00,434.68 L1736.60,435.44 L1737.20,436.19 L1737.80,436.95 L1738.40,437.70 L1739.00,438.45 L1739.60,439.20 L1740.20,439.95 L1740.80,440.69 L1741.40,441.43 L1742.00,442.16 L1742.60,442.89 L1743.20,443.60 L1743.80,444.31 L1744.40,445.01 L1745.00,445.70 L1745.60,446.38 L1746.20,447.05 L1746.80,447.72 L1747.40,448.38 L1748.00,449.04 L1748.60,449.69 L1749.20,450.33 L1749.80,450.97 L1750.40,451.61 L1751.00,452.24 L1751.60,452.87 L1752.20,453.50 L1752.80,454.12 L1753.40,454.74 L1754.00,455.36 L1754.60,455.98 L1755.20,456.60 L1755.80,457.21 L1756.40,457.82 L1757.00,458.43 L1757.60,459.05 L1758.20,459.66 L1758.80,460.27 L1759.40,460.89 L1760.00,461.50 L1760.60,462.12 L1761.21,462.75 L1761.81,463.38 L1762.41,464.01 L1763.01,464.65 L1763.62,465.29 L1764.22,465.93 L1764.82,466.57 L1765.43,467.21 L1766.03,467.86 L1766.63,468.50 L1767.23,469.15 L1767.84,469.79 L1768.44,470.43 L1769.04,471.07 L1769.65,471.70 L1770.25,472.34 L1770.85,472.97 L1771.45,473.59 L1772.06,474.21 L1772.66,474.82 L1773.26,475.43 L1773.87,476.03 L1774.47,476.62 L1775.07,477.20 L1775.67,477.78 L1776.28,478.35 L1776.88,478.91 L1777.48,479.45 L1778.09,479.99 L1778.69,480.52 L1779.29,481.03 L1779.89,481.53 L1780.50,482.02 L1781.10,482.50 L1781.70,482.96 L1782.30,483.42 L1782.91,483.87 L1783.51,484.32 L1784.11,484.76 L1784.71,485.19 L1785.31,485.62 L1785.91,486.04 L1786.52,486.46 L1787.12,486.87 L1787.72,487.28 L1788.32,487.68 L1788.92,488.08 L1789.52,488.47 L1790.13,488.86 L1790.73,489.25 L1791.33,489.63 L1791.93,490.01 L1792.53,490.38 L1793.14,490.75 L1793.74,491.12 L1794.34,491.48 L1794.94,491.84 L1795.54,492.20 L1796.14,492.56 L1796.75,492.91 L1797.35,493.26 L1797.95,493.61 L1798.55,493.96 L1799.15,494.31 L1799.76,494.66 L1800.36,495.00 L1800.96,495.34 L1801.56,495.69 L1802.16,496.03 L1802.76,496.37 L1803.37,496.71 L1803.97,497.06 L1804.57,497.40 L1805.17,497.74 L1805.77,498.08 L1806.38,498.42 L1806.98,498.77 L1807.58,499.11 L1808.18,499.46 L1808.78,499.81 L1809.38,500.16 L1809.99,500.51 L1810.59,500.86 L1811.19,501.22 L1811.79,501.57 L1812.39,501.93 L1812.99,502.29 L1813.60,502.66 L1814.20,503.03 L1814.80,503.40" fill="none" stroke="#4A9297" stroke-width="2.1" stroke-linejoin="round"/>
<path d="M1559.30,557.90 L1559.90,557.89 L1560.51,557.89 L1561.11,557.88 L1561.72,557.88 L1562.32,557.87 L1562.92,557.87 L1563.53,557.86 L1564.13,557.86 L1564.74,557.85 L1565.34,557.85 L1565.94,557.84 L1566.55,557.84 L1567.15,557.84 L1567.75,557.83 L1568.36,557.83 L1568.96,557.82 L1569.57,557.82 L1570.17,557.82 L1570.77,557.81 L1571.38,557.81 L1571.98,557.80 L1572.59,557.80 L1573.19,557.79 L1573.79,557.79 L1574.40,557.78 L1575.00,557.78 L1575.61,557.78 L1576.21,557.77 L1576.81,557.77 L1577.42,557.76 L1578.02,557.76 L1578.63,557.75 L1579.23,557.74 L1579.83,557.74 L1580.44,557.73 L1581.04,557.73 L1581.65,557.72 L1582.25,557.71 L1582.85,557.71 L1583.46,557.70 L1584.06,557.69 L1584.66,557.68 L1585.27,557.68 L1585.87,557.67 L1586.48,557.66 L1587.08,557.65 L1587.68,557.64 L1588.29,557.63 L1588.89,557.62 L1589.50,557.61 L1590.10,557.60 L1590.72,557.59 L1591.34,557.57 L1591.96,557.56 L1592.58,557.54 L1593.20,557.52 L1593.82,557.50 L1594.43,557.47 L1595.05,557.44 L1595.67,557.42 L1596.29,557.39 L1596.91,557.35 L1597.53,557.32 L1598.15,557.28 L1598.77,557.24 L1599.39,557.20 L1600.01,557.16 L1600.63,557.11 L1601.25,557.06 L1601.87,557.01 L1602.48,556.96 L1603.10,556.91 L1603.72,556.85 L1604.34,556.79 L1604.96,556.73 L1605.58,556.67 L1606.20,556.60 L1606.82,556.52 L1607.44,556.43 L1608.07,556.32 L1608.69,556.19 L1609.31,556.05 L1609.93,555.90 L1610.56,555.73 L1611.18,555.54 L1611.80,555.35 L1612.42,555.14 L1613.04,554.92 L1613.67,554.69 L1614.29,554.44 L1614.91,554.19 L1615.53,553.93 L1616.16,553.66 L1616.78,553.38 L1617.40,553.10 L1618.05,552.77 L1618.71,552.41 L1619.36,551.99 L1620.02,551.54 L1620.67,551.05 L1621.33,550.53 L1621.98,549.96 L1622.64,549.37 L1623.29,548.74 L1623.95,548.09 L1624.60,547.40 L1625.22,546.69 L1625.84,545.89 L1626.47,545.02 L1627.09,544.07 L1627.71,543.06 L1628.33,542.00 L1628.96,540.90 L1629.58,539.76 L1630.20,538.60 L1630.89,537.26 L1631.57,535.82 L1632.26,534.30 L1632.94,532.69 L1633.63,531.00 L1634.31,529.24 L1635.00,527.40 L1635.64,525.60 L1636.28,523.69 L1636.91,521.68 L1637.55,519.58 L1638.19,517.40 L1638.82,515.15 L1639.46,512.85 L1640.10,510.50 L1640.71,508.20 L1641.32,505.84 L1641.93,503.42 L1642.54,500.93 L1643.15,498.38 L1643.76,495.75 L1644.37,493.05 L1644.98,490.28 L1645.59,487.43 L1646.20,484.50 L1646.83,481.38 L1647.46,478.14 L1648.09,474.77 L1648.71,471.27 L1649.34,467.64 L1649.97,463.89 L1650.60,460.00 L1651.30,455.23 L1652.00,449.97 L1652.70,444.60 L1653.40,439.49 L1654.10,435.00 L1654.80,431.09 L1655.50,427.44 L1656.20,424.05 L1656.90,420.90 L1657.60,418.00 L1658.26,415.43 L1658.92,412.98 L1659.59,410.66 L1660.25,408.44 L1660.91,406.33 L1661.58,404.31 L1662.24,402.37 L1662.90,400.50 L1663.52,398.78 L1664.14,397.06 L1664.75,395.35 L1665.37,393.68 L1665.99,392.06 L1666.61,390.51 L1667.23,389.05 L1667.85,387.70 L1668.46,386.48 L1669.08,385.41 L1669.70,384.50 L1670.33,383.69 L1670.96,382.91 L1671.59,382.16 L1672.21,381.46 L1672.84,380.79 L1673.47,380.17 L1674.10,379.58 L1674.73,379.03 L1675.36,378.52 L1675.99,378.05 L1676.61,377.62 L1677.24,377.24 L1677.87,376.90 L1678.50,376.60 L1679.12,376.33 L1679.74,376.06 L1680.35,375.80 L1680.97,375.54 L1681.59,375.30 L1682.21,375.06 L1682.82,374.83 L1683.44,374.62 L1684.06,374.43 L1684.68,374.25 L1685.29,374.08 L1685.91,373.94 L1686.53,373.82 L1687.15,373.73 L1687.76,373.66 L1688.38,373.61 L1689.00,373.60 L1689.62,373.61 L1690.24,373.64 L1690.85,373.68 L1691.47,373.74 L1692.09,373.82 L1692.71,373.90 L1693.32,374.00 L1693.94,374.12 L1694.56,374.24 L1695.18,374.36 L1695.79,374.50 L1696.41,374.64 L1697.03,374.79 L1697.65,374.94 L1698.26,375.09 L1698.88,375.25 L1699.50,375.40 L1700.12,375.57 L1700.74,375.75 L1701.35,375.96 L1701.97,376.19 L1702.59,376.44 L1703.21,376.70 L1703.82,376.98 L1704.44,377.27 L1705.06,377.57 L1705.68,377.88 L1706.29,378.19 L1706.91,378.51 L1707.53,378.83 L1708.15,379.15 L1708.76,379.47 L1709.38,379.79 L1710.00,380.10 L1710.61,380.41 L1711.22,380.72 L1711.83,381.03 L1712.44,381.35 L1713.05,381.68 L1713.66,382.00 L1714.27,382.34 L1714.88,382.67 L1715.49,383.01 L1716.10,383.36 L1716.71,383.71 L1717.32,384.06 L1717.93,384.43 L1718.54,384.79 L1719.15,385.16 L1719.76,385.54 L1720.37,385.92 L1720.98,386.31 L1721.59,386.70 L1722.20,387.10 L1722.83,387.53 L1723.47,387.97 L1724.10,388.42 L1724.73,388.88 L1725.37,389.36 L1726.00,389.84 L1726.63,390.34 L1727.27,390.84 L1727.90,391.34 L1728.53,391.85 L1729.17,392.36 L1729.80,392.87 L1730.43,393.38 L1731.07,393.90 L1731.70,394.40 L1732.33,394.91 L1732.97,395.41 L1733.60,395.90 L1734.21,396.91 L1734.82,397.93 L1735.42,398.95 L1736.03,399.97 L1736.64,401.00 L1737.25,402.02 L1737.85,403.04 L1738.46,404.06 L1739.07,405.06 L1739.68,406.07 L1740.28,407.06 L1740.89,408.03 L1741.50,409.00 L1742.12,409.97 L1742.74,410.92 L1743.35,411.87 L1743.97,412.80 L1744.59,413.73 L1745.21,414.65 L1745.82,415.56 L1746.44,416.47 L1747.06,417.38 L1747.68,418.28 L1748.29,419.19 L1748.91,420.09 L1749.53,421.00 L1750.15,421.92 L1750.76,422.84 L1751.38,423.77 L1752.00,424.70 L1752.64,425.68 L1753.28,426.67 L1753.92,427.67 L1754.57,428.68 L1755.21,429.69 L1755.85,430.69 L1756.49,431.70 L1757.13,432.70 L1757.78,433.69 L1758.42,434.67 L1759.06,435.64 L1759.70,436.60 L1760.31,437.50 L1760.92,438.41 L1761.54,439.31 L1762.15,440.21 L1762.76,441.12 L1763.37,442.02 L1763.98,442.91 L1764.60,443.81 L1765.21,444.70 L1765.82,445.58 L1766.43,446.46 L1767.04,447.34 L1767.66,448.21 L1768.27,449.07 L1768.88,449.93 L1769.49,450.78 L1770.10,451.62 L1770.72,452.45 L1771.33,453.28 L1771.94,454.09 L1772.55,454.90 L1773.16,455.69 L1773.78,456.47 L1774.39,457.24 L1775.00,458.00 L1775.61,458.75 L1776.23,459.50 L1776.84,460.24 L1777.45,460.98 L1778.07,461.71 L1778.68,462.44 L1779.29,463.17 L1779.91,463.89 L1780.52,464.60 L1781.13,465.31 L1781.75,466.01 L1782.36,466.71 L1782.97,467.40 L1783.59,468.08 L1784.20,468.76 L1784.81,469.43 L1785.43,470.10 L1786.04,470.75 L1786.65,471.40 L1787.27,472.04 L1787.88,472.68 L1788.49,473.30 L1789.11,473.92 L1789.72,474.53 L1790.33,475.13 L1790.95,475.72 L1791.56,476.31 L1792.17,476.88 L1792.79,477.45 L1793.40,478.00 L1794.01,478.54 L1794.62,479.08 L1795.23,479.60 L1795.85,480.12 L1796.46,480.63 L1797.07,481.13 L1797.68,481.62 L1798.29,482.11 L1798.90,482.59 L1799.51,483.06 L1800.13,483.53 L1800.74,484.00 L1801.35,484.46 L1801.96,484.91 L1802.57,485.36 L1803.18,485.81 L1803.79,486.25 L1804.41,486.69 L1805.02,487.13 L1805.63,487.57 L1806.24,488.01 L1806.85,488.44 L1807.46,488.88 L1808.07,489.31 L1808.69,489.75 L1809.30,490.18 L1809.91,490.62 L1810.52,491.06 L1811.13,491.50 L1811.74,491.94 L1812.35,492.38 L1812.97,492.83 L1813.58,493.28 L1814.19,493.74 L1814.80,494.20" fill="none" stroke="#9ED6C8" stroke-width="2.1" stroke-linejoin="round"/>
</svg>
</body></html>
